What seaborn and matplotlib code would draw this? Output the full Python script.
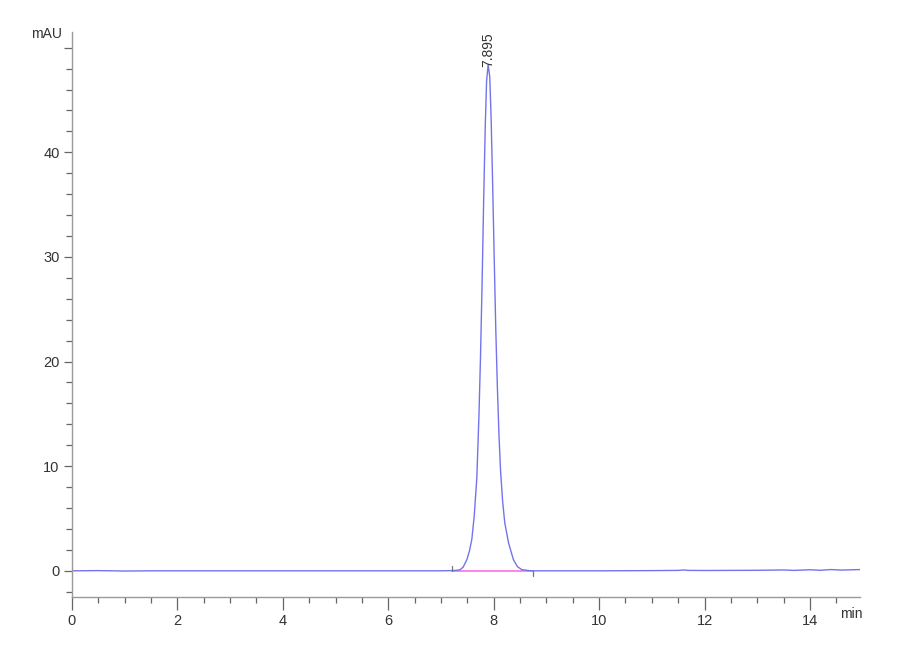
import numpy as np
import pandas as pd
import matplotlib
matplotlib.use("Agg")
import matplotlib.pyplot as plt
from matplotlib.ticker import MultipleLocator
import seaborn as sns

# chromatogram trace (time in min, signal in mAU)
time_min = [0.0, 0.5, 1.0, 1.5, 2.0, 3.0, 4.0, 5.0, 6.0, 6.5, 7.0, 7.2,
            7.30, 7.36, 7.42, 7.49, 7.54, 7.585, 7.63, 7.68, 7.72, 7.75,
            7.78, 7.81, 7.84, 7.865, 7.895, 7.925, 7.95, 7.98, 8.01, 8.04,
            8.07, 8.10, 8.13, 8.17, 8.21, 8.28, 8.375, 8.45, 8.53, 8.65, 8.75,
            9.0, 10.0, 11.0, 11.5, 11.6, 11.7, 12.0, 13.0, 13.5, 13.7,
            14.0, 14.2, 14.4, 14.6, 14.8, 14.95]
signal_mau = [0.0, 0.02, -0.02, 0.0, 0.0, 0.0, 0.0, 0.0, 0.0, 0.0, 0.0, 0.02,
              0.05, 0.1, 0.35, 1.05, 1.9, 3.0, 5.2, 8.9, 14.8, 20.5,
              27.5, 35.5, 42.5, 46.8, 48.4, 47.2, 43.5, 37.0, 29.8, 23.0,
              17.5, 13.0, 9.6, 6.6, 4.6, 2.7, 1.05, 0.4, 0.12, 0.03, 0.0,
              0.0, 0.0, 0.02, 0.04, 0.08, 0.04, 0.03, 0.05, 0.08, 0.04,
              0.1, 0.05, 0.12, 0.07, 0.1, 0.12]

# integration baseline and peak start/end marks
base_start, base_end = 7.2, 8.75
peak_rt = 7.895
peak_label = "7.895"

df = pd.DataFrame({"time": time_min, "mAU": signal_mau})

sns.set_style("white")
plt.rcParams["font.family"] = ["Liberation Sans", "DejaVu Sans"]

fig = plt.figure(figsize=(9, 6.6), dpi=100)
ax = fig.add_axes([0.08, 0.0955, 0.8756, 0.856])

sns.lineplot(data=df, x="time", y="mAU", ax=ax, color="#7373ee",
             linewidth=1.0, estimator=None, sort=False)

# integration baseline
ax.plot([base_start, base_end], [0, 0], color="#ff70e0", linewidth=1.2, zorder=1)
ax.plot([base_start, base_start], [0, 0.5], color="#777777", linewidth=0.9)
ax.plot([base_end, base_end], [-0.5, 0], color="#777777", linewidth=0.9)

# retention time label
ax.text(peak_rt, 48.2, peak_label, rotation=90, ha="center", va="bottom",
        fontsize=10, color="#333333")

ax.set_xlim(0, 14.95)
ax.set_ylim(-2.5, 51.5)
ax.xaxis.set_minor_locator(MultipleLocator(0.5))
ax.yaxis.set_minor_locator(MultipleLocator(2))
ax.set_xticks([0, 2, 4, 6, 8, 10, 12, 14])
ax.set_yticks([0, 10, 20, 30, 40, 50])
ax.set_yticklabels(["0", "10", "20", "30", "40", ""])

for side in ["top", "right"]:
    ax.spines[side].set_visible(False)
for side in ["left", "bottom"]:
    ax.spines[side].set_color("#999999")
    ax.spines[side].set_linewidth(1.0)

ax.tick_params(axis="both", which="major", direction="out", color="#666666",
               labelsize=10.5, labelcolor="#333333", width=0.9)
ax.tick_params(axis="x", which="major", length=9, pad=3)
ax.tick_params(axis="y", which="major", length=6, pad=3)
ax.tick_params(axis="both", which="minor", direction="out", color="#666666",
               length=4, width=0.9)
ax.tick_params(axis="both", which="both", bottom=True, left=True)

ax.set_xlabel("")
ax.set_ylabel("")

# unit labels at the axis ends
ax.text(-0.18, 51.3, "mAU", ha="right", va="center", fontsize=10, color="#333333")
ax.text(14.78, -4.15, "min", ha="center", va="center", fontsize=10, color="#333333")

fig.savefig("out.png", dpi=100)
